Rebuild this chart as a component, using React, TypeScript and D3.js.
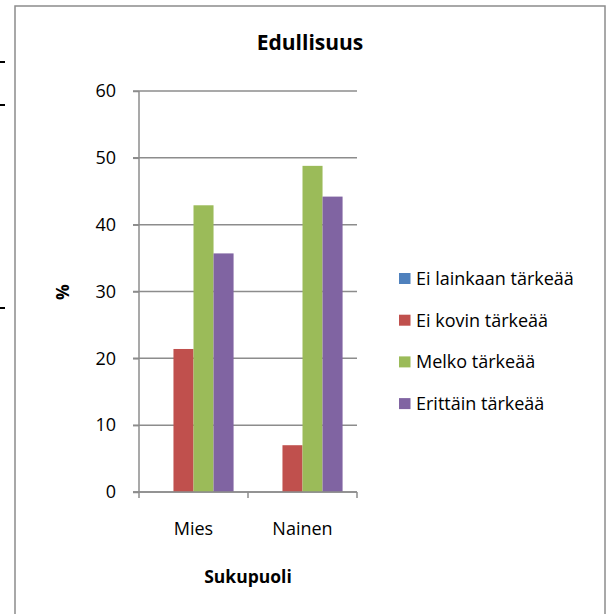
import * as d3 from "d3";
import { useEffect, useRef } from "react";

const categories = ["Mies", "Nainen"];
const seriesNames = ["Ei lainkaan tärkeää", "Ei kovin tärkeää", "Melko tärkeää", "Erittäin tärkeää"];
const seriesColors = ["#4f81bd", "#c0504d", "#9bbb59", "#8064a2"];
// values per series, one per category
const eiLainkaan = [0, 0];
const eiKovin = [21.4, 7.0];
const melko = [42.9, 48.8];
const erittain = [35.7, 44.2];
const yTicks = [0, 10, 20, 30, 40, 50, 60];

const W = 609;
const H = 614;
const font = "'Open Sans', sans-serif";

export default function App() {
  const ref = useRef<SVGSVGElement | null>(null);

  useEffect(() => {
    if (!ref.current) return;
    const svg = d3.select(ref.current);
    svg.selectAll("*").remove();

    const values = [eiLainkaan, eiKovin, melko, erittain];

    // chart frame
    svg.append("rect")
      .attr("x", 15).attr("y", 6)
      .attr("width", 590).attr("height", 620)
      .attr("fill", "#fff").attr("stroke", "#8c8c8c").attr("stroke-width", 1.5);

    // stray marks on the left edge
    [62, 105, 308].forEach((y) => {
      svg.append("line").attr("x1", 0).attr("x2", 5).attr("y1", y).attr("y2", y)
        .attr("stroke", "#000").attr("stroke-width", 2);
    });

    const x = d3.scaleBand<string>().domain(categories).range([139, 357]);
    const inner = d3.scaleBand<string>().domain(seriesNames)
      .range([0, x.bandwidth()]).paddingOuter(0.72);
    const y = d3.scaleLinear().domain([0, 60]).range([492, 91]);

    // gridlines
    svg.append("g").selectAll("line").data(yTicks).join("line")
      .attr("x1", 133).attr("x2", 357)
      .attr("y1", (d) => y(d)).attr("y2", (d) => y(d))
      .attr("stroke", "#8c8c8c").attr("stroke-width", 1.5);

    // bars
    seriesNames.forEach((s, si) => {
      svg.append("g").selectAll("rect").data(categories).join("rect")
        .attr("x", (c) => (x(c) as number) + (inner(s) as number))
        .attr("width", inner.bandwidth())
        .attr("y", (c, ci) => y(values[si][ci]))
        .attr("height", (c, ci) => y(0) - y(values[si][ci]))
        .attr("fill", seriesColors[si]);
    });

    // y axis
    const yAxis = d3.axisLeft(y).tickValues(yTicks).tickSize(6).tickPadding(17);
    const ya = svg.append("g").attr("transform", "translate(139,0)").call(yAxis);
    ya.select(".domain").attr("stroke", "#8c8c8c").attr("stroke-width", 1.5).attr("d", `M0,${y(60)}V${y(0)}`);
    ya.selectAll(".tick line").attr("stroke", "#8c8c8c").attr("stroke-width", 1.5);
    ya.selectAll(".tick text").attr("font-family", font).attr("font-size", 18).attr("fill", "#000");

    // x axis
    const xa = svg.append("g").attr("transform", `translate(0,${y(0)})`);
    xa.append("line").attr("x1", 133).attr("x2", 357).attr("stroke", "#8c8c8c").attr("stroke-width", 1.5);
    const xt = [139, ...categories.map((c) => (x(c) as number) + x.bandwidth())];
    xa.selectAll("line.tk").data(xt).join("line").attr("class", "tk")
      .attr("x1", (d) => d).attr("x2", (d) => d).attr("y1", 0).attr("y2", 6)
      .attr("stroke", "#8c8c8c").attr("stroke-width", 1.5);
    xa.selectAll("text").data(categories).join("text")
      .attr("x", (c) => (x(c) as number) + x.bandwidth() / 2)
      .attr("y", 43).attr("text-anchor", "middle")
      .attr("font-family", font).attr("font-size", 18).text((c) => c);

    // titles
    svg.append("text").attr("x", 310).attr("y", 50).attr("text-anchor", "middle")
      .attr("font-family", font).attr("font-weight", "bold").attr("font-size", 21).text("Edullisuus");
    svg.append("text").attr("x", 248).attr("y", 583).attr("text-anchor", "middle")
      .attr("font-family", font).attr("font-weight", "bold").attr("font-size", 17.5).text("Sukupuoli");
    svg.append("text").attr("transform", "translate(69,292) rotate(-90)").attr("text-anchor", "middle")
      .attr("font-family", font).attr("font-weight", "bold").attr("font-size", 17.5).text("%");

    // legend
    const lg = svg.append("g").selectAll("g").data(seriesNames).join("g")
      .attr("transform", (d, i) => `translate(399,${273 + i * 41.7})`);
    lg.append("rect").attr("width", 11.5).attr("height", 11).attr("fill", (d, i) => seriesColors[i]);
    lg.append("text").attr("x", 17).attr("y", 12)
      .attr("font-family", font).attr("font-size", 18).text((d) => d);
  }, []);

  return (
    <svg ref={ref} width={W} height={H}
      style={{ position: "absolute", left: 0, top: 0, background: "#fff" }} />
  );
}
